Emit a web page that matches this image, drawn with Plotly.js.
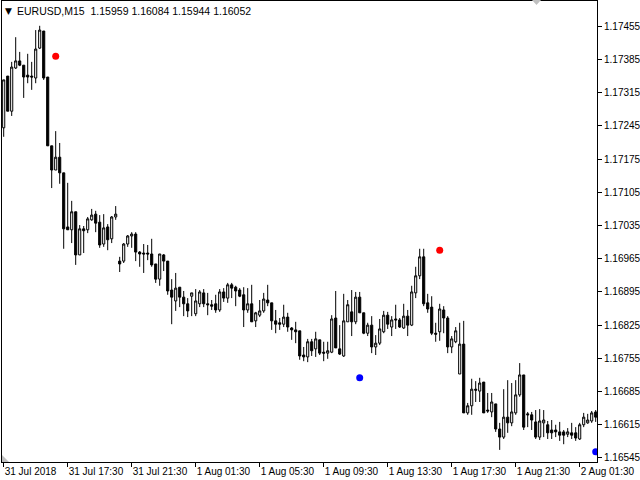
<!DOCTYPE html>
<html>
<head>
<meta charset="utf-8">
<script src="https://cdn.plot.ly/plotly-3.0.1.min.js"></script>
<style>html,body{margin:0;padding:0;background:#fff;}#chart{width:640px;height:480px;}</style>
</head>
<body>
<div id="chart"></div>
<script>
// EURUSD M15 candles, 31 Jul 2018 13:30 -> 2 Aug 2018 02:30 (bar index 0..148)
const openP = [1.17241,1.17350,1.17276,1.17367,1.17382,1.17373,1.17352,1.17350,1.17346,1.17409,
1.17445,1.17348,1.17203,1.17152,1.17179,1.17146,1.17032,1.17026,1.17064,1.16973,
1.17028,1.17026,1.17047,1.17059,1.17042,1.16996,1.17032,1.17007,1.17053,1.16960,
1.16960,1.16996,1.17013,1.17017,1.16979,1.16977,1.16977,1.16975,1.16954,1.16922,
1.16973,1.16960,1.16899,1.16876,1.16905,1.16884,1.16870,1.16886,1.16849,1.16870,
1.16893,1.16870,1.16868,1.16870,1.16857,1.16895,1.16882,1.16910,1.16905,1.16899,
1.16889,1.16857,1.16870,1.16834,1.16846,1.16855,1.16878,1.16872,1.16834,1.16830,
1.16827,1.16842,1.16819,1.16815,1.16813,1.16762,1.16758,1.16790,1.16775,1.16794,
1.16768,1.16766,1.16768,1.16840,1.16775,1.16760,1.16832,1.16853,1.16832,1.16884,
1.16851,1.16808,1.16825,1.16779,1.16787,1.16811,1.16846,1.16821,1.16838,1.16836,
1.16819,1.16844,1.16825,1.16893,1.16929,1.16969,1.16872,1.16863,1.16808,1.16811,
1.16857,1.16840,1.16779,1.16790,1.16722,1.16785,1.16640,1.16655,1.16690,1.16686,
1.16705,1.16646,1.16642,1.16659,1.16606,1.16589,1.16631,1.16619,1.16640,1.16678,
1.16720,1.16638,1.16636,1.16621,1.16589,1.16619,1.16615,1.16604,1.16604,1.16600,
1.16600,1.16595,1.16598,1.16598,1.16585,1.16615,1.16619,1.16623,1.16642];
const highP = [1.17342,1.17350,1.17380,1.17432,1.17401,1.17373,1.17397,1.17380,1.17447,1.17456,
1.17445,1.17348,1.17203,1.17234,1.17209,1.17146,1.17125,1.17087,1.17064,1.17036,
1.17034,1.17053,1.17070,1.17066,1.17057,1.17059,1.17038,1.17055,1.17076,1.16969,
1.16998,1.17015,1.17021,1.17021,1.16981,1.16996,1.16994,1.17007,1.16954,1.16975,
1.16975,1.16960,1.16922,1.16935,1.16905,1.16897,1.16882,1.16893,1.16901,1.16899,
1.16901,1.16893,1.16878,1.16889,1.16901,1.16903,1.16914,1.16914,1.16908,1.16903,
1.16905,1.16903,1.16910,1.16853,1.16878,1.16893,1.16910,1.16872,1.16857,1.16840,
1.16868,1.16851,1.16821,1.16832,1.16813,1.16779,1.16796,1.16796,1.16811,1.16794,
1.16790,1.16790,1.16846,1.16897,1.16825,1.16891,1.16878,1.16899,1.16895,1.16895,
1.16851,1.16830,1.16844,1.16804,1.16838,1.16855,1.16853,1.16844,1.16868,1.16840,
1.16870,1.16857,1.16908,1.16948,1.16986,1.16986,1.16891,1.16886,1.16830,1.16870,
1.16865,1.16844,1.16802,1.16821,1.16830,1.16834,1.16661,1.16712,1.16707,1.16714,
1.16705,1.16682,1.16682,1.16659,1.16619,1.16690,1.16709,1.16703,1.16709,1.16745,
1.16720,1.16642,1.16642,1.16646,1.16648,1.16646,1.16623,1.16625,1.16615,1.16621,
1.16604,1.16608,1.16619,1.16610,1.16619,1.16640,1.16638,1.16644,1.16646];
const lowP = [1.17222,1.17276,1.17266,1.17365,1.17371,1.17304,1.17335,1.17321,1.17335,1.17407,
1.17342,1.17203,1.17114,1.17152,1.17123,1.16986,1.17026,1.16998,1.16952,1.16973,
1.16977,1.17019,1.17045,1.17021,1.16988,1.16990,1.16983,1.16998,1.17047,1.16937,
1.16956,1.16990,1.16988,1.16960,1.16948,1.16935,1.16962,1.16948,1.16914,1.16908,
1.16939,1.16889,1.16827,1.16855,1.16863,1.16844,1.16842,1.16844,1.16844,1.16863,
1.16863,1.16846,1.16857,1.16851,1.16853,1.16874,1.16872,1.16882,1.16865,1.16884,
1.16821,1.16851,1.16832,1.16821,1.16842,1.16851,1.16865,1.16815,1.16808,1.16815,
1.16821,1.16811,1.16794,1.16787,1.16752,1.16749,1.16747,1.16760,1.16758,1.16762,
1.16749,1.16754,1.16766,1.16777,1.16762,1.16758,1.16832,1.16802,1.16827,1.16851,
1.16806,1.16802,1.16766,1.16762,1.16783,1.16808,1.16817,1.16802,1.16817,1.16819,
1.16817,1.16802,1.16823,1.16882,1.16922,1.16865,1.16851,1.16804,1.16790,1.16792,
1.16808,1.16766,1.16766,1.16787,1.16722,1.16640,1.16636,1.16636,1.16663,1.16663,
1.16640,1.16640,1.16631,1.16600,1.16562,1.16585,1.16598,1.16612,1.16636,1.16674,
1.16604,1.16610,1.16604,1.16585,1.16583,1.16589,1.16585,1.16585,1.16589,1.16581,
1.16574,1.16589,1.16585,1.16581,1.16583,1.16610,1.16617,1.16619,1.16621];
const closeP = [1.17342,1.17276,1.17369,1.17382,1.17373,1.17348,1.17348,1.17348,1.17407,1.17447,
1.17346,1.17203,1.17152,1.17179,1.17146,1.17028,1.17026,1.17064,1.16973,1.17028,
1.17024,1.17049,1.17057,1.17040,1.16994,1.17030,1.17005,1.17053,1.17059,1.16954,
1.16996,1.17013,1.17017,1.16979,1.16975,1.16975,1.16975,1.16952,1.16922,1.16975,
1.16960,1.16897,1.16884,1.16903,1.16884,1.16870,1.16855,1.16893,1.16876,1.16895,
1.16870,1.16868,1.16865,1.16857,1.16895,1.16882,1.16910,1.16903,1.16897,1.16886,
1.16857,1.16870,1.16832,1.16851,1.16855,1.16880,1.16872,1.16834,1.16827,1.16827,
1.16842,1.16821,1.16815,1.16811,1.16760,1.16758,1.16790,1.16771,1.16796,1.16766,
1.16766,1.16771,1.16838,1.16777,1.16764,1.16834,1.16868,1.16832,1.16884,1.16851,
1.16808,1.16825,1.16779,1.16787,1.16817,1.16846,1.16827,1.16836,1.16836,1.16821,
1.16844,1.16825,1.16895,1.16929,1.16969,1.16870,1.16859,1.16808,1.16806,1.16859,
1.16840,1.16779,1.16796,1.16813,1.16785,1.16640,1.16655,1.16690,1.16688,1.16703,
1.16640,1.16644,1.16663,1.16606,1.16589,1.16631,1.16619,1.16642,1.16678,1.16720,
1.16610,1.16636,1.16625,1.16589,1.16623,1.16625,1.16598,1.16598,1.16600,1.16593,
1.16593,1.16600,1.16593,1.16587,1.16615,1.16631,1.16625,1.16640,1.16631];

// fractal dots (bar index, price)
const upDotBars = [13, 109];
const upDotPrices = [1.17392, 1.16983];
const downDotBars = [89, 148];
const downDotPrices = [1.16714, 1.16558];

// axes
const timeTickBars = [0,16,32,48,64,80,96,112,128,144];
const timeTickLabels = ["31 Jul 2018","31 Jul 17:30","31 Jul 21:30","1 Aug 01:30","1 Aug 05:30",
  "1 Aug 09:30","1 Aug 13:30","1 Aug 17:30","1 Aug 21:30","2 Aug 01:30"];
const priceTickLabels = ["1.16545","1.16615","1.16685","1.16755","1.16825","1.16895","1.16965",
  "1.17035","1.17105","1.17175","1.17245","1.17315","1.17385","1.17455"];
const headerText = "EURUSD,M15  1.15959 1.16084 1.15944 1.16052";

const barIdx = openP.map((_, i) => i);
const priceTickVals = priceTickLabels.map(Number);

const fam = "Liberation Sans, Arial, sans-serif";
const xfont = {family: fam, size: 10, color: "#000"};
const yfont = {family: fam, size: 10, color: "#000"};

const traces = [
  {
    type: "candlestick",
    x: barIdx, open: openP, high: highP, low: lowP, close: closeP,
    increasing: {line: {color: "#000", width: 1}, fillcolor: "#ffffff"},
    decreasing: {line: {color: "#000", width: 1}, fillcolor: "#000000"},
    whiskerwidth: 0,
    hoverinfo: "none",
    showlegend: false
  },
  {
    type: "scatter", mode: "markers", x: upDotBars, y: upDotPrices,
    marker: {color: "#ff0000", size: 7}, hoverinfo: "none", showlegend: false
  },
  {
    type: "scatter", mode: "markers", x: downDotBars, y: downDotPrices,
    marker: {color: "#0000ff", size: 7}, hoverinfo: "none", showlegend: false
  }
];

const L = 2, R = 43, T = 1, B = 18;
const pw = 640 - L - R, ph = 480 - T - B;
const px = v => (v - L) / pw;          // pixel -> paper (decorations only)
const py = v => (480 - B - v) / ph;

const layout = {
  width: 640, height: 480,
  margin: {l: L, r: R, t: T, b: B, pad: 0},
  paper_bgcolor: "#ffffff", plot_bgcolor: "#ffffff",
  showlegend: false,
  boxgap: 0.25,
  font: xfont,
  xaxis: {
    type: "linear",
    range: [-0.425, 148.325],
    rangeslider: {visible: false},
    showgrid: false, zeroline: false,
    showline: true, mirror: true, linecolor: "#000", linewidth: 1,
    tickmode: "array", tickvals: timeTickBars, ticktext: timeTickLabels,
    ticks: "outside", ticklen: 4, tickcolor: "#000", tickwidth: 1,
    ticklabelposition: "outside right",
    tickfont: xfont, fixedrange: true
  },
  yaxis: {
    side: "right",
    range: [1.165365, 1.175083],
    showgrid: false, zeroline: false,
    showline: true, mirror: true, linecolor: "#000", linewidth: 1,
    tickmode: "array", tickvals: priceTickVals, ticktext: priceTickLabels,
    ticks: "outside", ticklen: 4, tickcolor: "#000", tickwidth: 1,
    tickfont: yfont, fixedrange: true
  },
  annotations: [
    {xref: "paper", yref: "paper", x: px(3), y: py(11), xanchor: "left", yanchor: "middle",
     text: "▼", showarrow: false, font: {family: "DejaVu Sans, sans-serif", size: 9, color: "#000"}},
    {xref: "paper", yref: "paper", x: px(15), y: py(11), xanchor: "left", yanchor: "middle",
     text: headerText, showarrow: false, font: {family: fam, size: 10.5, color: "#000"}}
  ],
  shapes: [
    {type: "path", xref: "paper", yref: "paper", layer: "above",
     path: `M ${px(532)} ${py(0)} L ${px(541)} ${py(0)} L ${px(536.5)} ${py(5)} Z`,
     fillcolor: "#c0c0c0", line: {width: 0}},
    {type: "path", xref: "paper", yref: "paper", layer: "above",
     path: `M ${px(2)} ${py(455)} L ${px(2)} ${py(462)} L ${px(9)} ${py(462)} Z`,
     fillcolor: "#c0c0c0", line: {width: 0}}
  ]
};

Plotly.newPlot("chart", traces, layout, {staticPlot: true, displayModeBar: false});
</script>
</body>
</html>
